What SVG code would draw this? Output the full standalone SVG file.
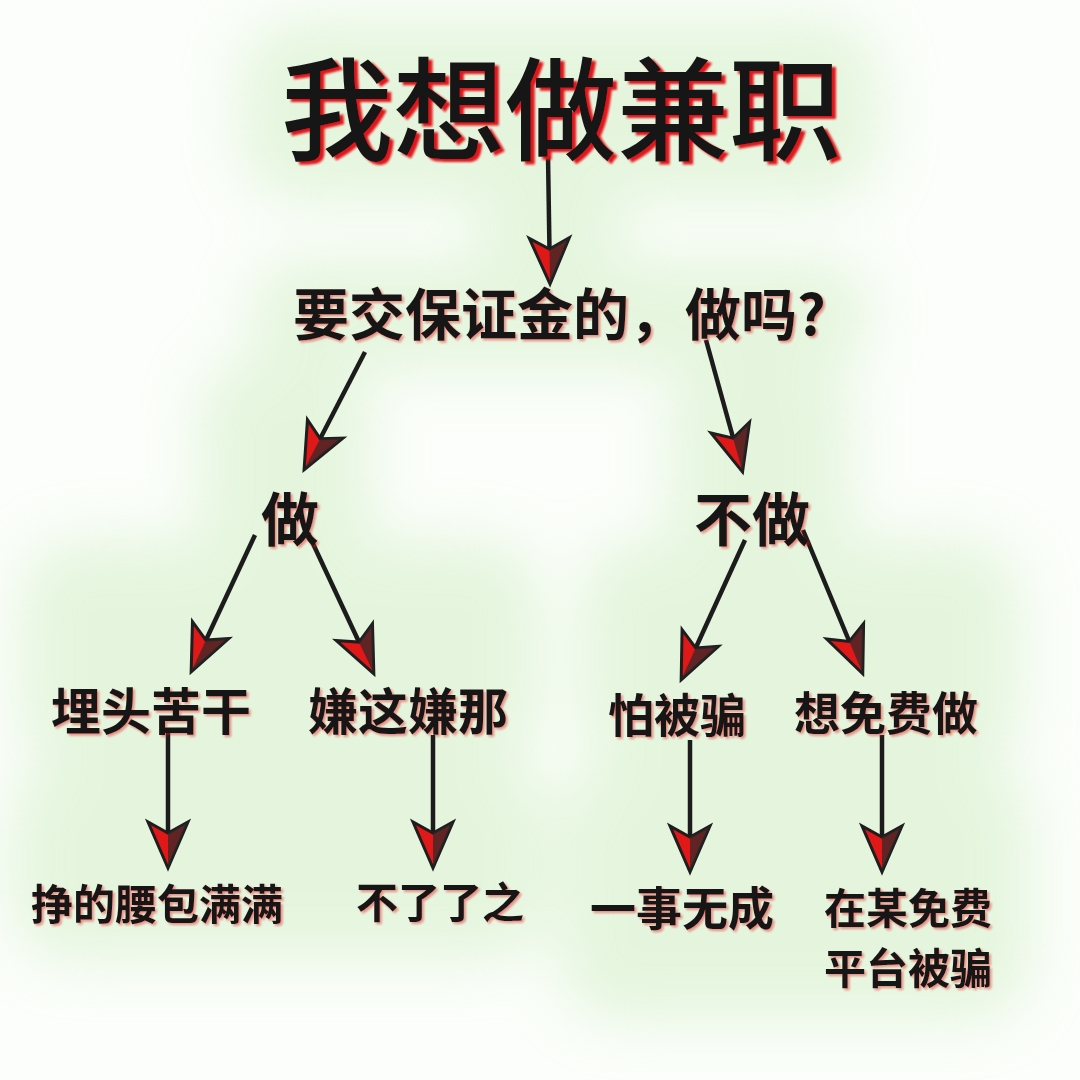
<svg xmlns="http://www.w3.org/2000/svg" width="1080" height="1080" viewBox="0 0 1080 1080">
<defs>
<filter id="glow" x="-50%" y="-50%" width="200%" height="200%"><feGaussianBlur stdDeviation="28"/></filter>
<filter id="shadow" x="-10%" y="-10%" width="120%" height="130%">
<feFlood flood-color="#e0141a" result="f"/>
<feComposite in="f" in2="SourceAlpha" operator="in" result="r"/>
<feOffset in="r" dx="4" dy="3" result="o"/>
<feGaussianBlur in="o" stdDeviation="0.8" result="ob"/>
<feMerge><feMergeNode in="ob"/><feMergeNode in="SourceGraphic"/></feMerge>
</filter>
<filter id="soft" x="-10%" y="-10%" width="120%" height="130%">
<feFlood flood-color="#e0141a" flood-opacity="0.45" result="f"/>
<feComposite in="f" in2="SourceAlpha" operator="in" result="r"/>
<feOffset in="r" dx="2" dy="1.5" result="o"/>
<feGaussianBlur in="o" stdDeviation="0.8" result="ob"/>
<feMerge><feMergeNode in="ob"/><feMergeNode in="SourceGraphic"/></feMerge>
</filter>
<marker id="ah" viewBox="-50 -26 56 52" refX="0" refY="0" markerWidth="56" markerHeight="52" markerUnits="userSpaceOnUse" orient="auto">
<path d="M2,0 L-44,-20 L-33,0 L-44,20 Z" fill="#e01818" stroke="#1e1e1e" stroke-width="3" stroke-linejoin="miter"/>
<path d="M2,0 L-44,-20 L-33,0 Z" fill="#2a2a2a" opacity="0.7"/>
</marker>
<style>
.t{font-family:"Noto Sans CJK SC","Noto Sans CJK JP",sans-serif;font-weight:700;fill:#151515;text-anchor:middle}
.title{font-weight:500}
.c{stroke:#1c1c1c;stroke-width:4.5;fill:none;marker-end:url(#ah)}
.g{fill:#dcf2d2}
</style>
</defs>
<rect width="1080" height="1080" fill="#fbfefa"/>
<g id="bg" filter="url(#glow)" opacity="0.7">
<rect class="g" x="240" y="20" width="640" height="180" rx="60"/>
<rect class="g" x="250" y="260" width="620" height="110" rx="50"/>
<rect class="g" x="200" y="360" width="170" height="220" rx="50"/>
<rect class="g" x="670" y="360" width="180" height="220" rx="50"/>
<rect class="g" x="20" y="540" width="520" height="230" rx="60"/>
<rect class="g" x="580" y="540" width="440" height="230" rx="60"/>
<rect class="g" x="10" y="760" width="540" height="200" rx="60"/>
<rect class="g" x="560" y="760" width="470" height="260" rx="60"/>
<rect class="g" x="480" y="150" width="140" height="140" rx="40"/>
</g>
<g id="connectors">
<line class="c" x1="548" y1="156" x2="550" y2="282"/>
<line class="c" x1="365" y1="352" x2="305" y2="468"/>
<line class="c" x1="706" y1="340" x2="742" y2="470"/>
<line class="c" x1="255" y1="535" x2="192" y2="670"/>
<line class="c" x1="308" y1="533" x2="373" y2="672"/>
<line class="c" x1="745" y1="540" x2="682" y2="678"/>
<line class="c" x1="803" y1="530" x2="862" y2="672"/>
<line class="c" x1="168" y1="733" x2="168" y2="866"/>
<line class="c" x1="433" y1="735" x2="433" y2="866"/>
<line class="c" x1="690" y1="740" x2="690" y2="870"/>
<line class="c" x1="882" y1="735" x2="882" y2="870"/>
</g>
<g id="title" filter="url(#shadow)"><text class="t title" x="561" y="152" font-size="112">我想做兼职</text></g>
<g id="q" filter="url(#soft)"><text class="t" x="293" y="335" font-size="56" style="text-anchor:start">要交保证金的，做吗?</text></g>
<g id="do" filter="url(#soft)"><text class="t" x="290" y="541" font-size="58">做</text></g>
<g id="notdo" filter="url(#soft)"><text class="t" x="752" y="541" font-size="58">不做</text></g>
<g id="n1" filter="url(#soft)"><text class="t" x="151" y="730" font-size="50">埋头苦干</text></g>
<g id="n2" filter="url(#soft)"><text class="t" x="408" y="730" font-size="50">嫌这嫌那</text></g>
<g id="n3" filter="url(#soft)"><text class="t" x="677" y="732" font-size="46">怕被骗</text></g>
<g id="n4" filter="url(#soft)"><text class="t" x="886" y="730" font-size="46">想免费做</text></g>
<g id="r1" filter="url(#soft)"><text class="t" x="157" y="920" font-size="42">挣的腰包满满</text></g>
<g id="r2" filter="url(#soft)"><text class="t" x="440" y="918" font-size="42">不了了之</text></g>
<g id="r3" filter="url(#soft)"><text class="t" x="682" y="925" font-size="46">一事无成</text></g>
<g id="r4" filter="url(#soft)"><text class="t" x="908" y="924" font-size="42">在某免费</text><text class="t" x="908" y="984" font-size="42">平台被骗</text></g>
</svg>
